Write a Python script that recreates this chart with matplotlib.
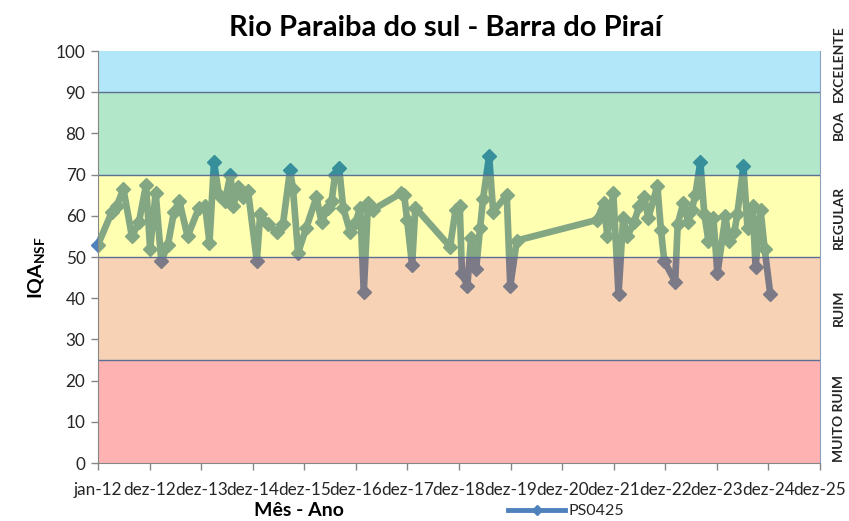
import matplotlib
matplotlib.use("Agg")
import matplotlib.pyplot as plt
import pandas as pd
from matplotlib.lines import Line2D

# ---------------- data ----------------
dates = [
    "2012-01-01", "2012-04-09", "2012-05-14", "2012-06-29", "2012-08-28", "2012-10-17",
    "2012-12-06", "2013-01-04", "2013-02-12", "2013-03-24", "2013-05-10", "2013-06-22",
    "2013-07-30", "2013-09-26", "2013-12-16", "2014-01-28", "2014-02-28", "2014-04-01",
    "2014-05-06", "2014-06-17", "2014-07-26", "2014-08-17", "2014-09-15", "2014-10-23",
    "2014-11-28", "2015-01-29", "2015-02-22", "2015-04-18", "2015-06-20", "2015-08-02",
    "2015-09-21", "2015-10-12", "2015-11-17", "2016-01-13", "2016-03-26", "2016-05-01",
    "2016-06-16", "2016-07-11", "2016-08-05", "2016-09-03", "2016-10-01", "2016-11-20",
    "2016-12-29", "2017-01-30", "2017-02-24", "2017-03-26", "2017-04-30", "2017-11-16",
    "2017-12-07", "2017-12-28", "2018-02-01", "2018-02-24", "2018-10-28", "2018-12-06",
    "2019-01-04", "2019-01-20", "2019-02-27", "2019-03-25", "2019-04-30", "2019-05-28",
    "2019-06-18", "2019-07-31", "2019-08-29", "2019-12-03", "2019-12-28", "2020-02-12",
    "2021-09-02", "2021-10-20", "2021-11-14", "2021-12-26", "2022-02-01", "2022-03-06",
    "2022-04-04", "2022-05-23", "2022-06-28", "2022-08-02", "2022-08-31", "2022-11-03",
    "2022-11-28", "2022-12-22", "2023-03-09", "2023-03-27", "2023-05-05", "2023-06-10",
    "2023-07-04", "2023-07-29", "2023-09-03", "2023-10-01", "2023-10-30", "2023-12-04",
    "2024-01-02", "2024-02-28", "2024-03-22", "2024-05-01", "2024-05-22", "2024-07-04",
    "2024-08-02", "2024-09-07", "2024-09-28", "2024-11-02", "2024-12-01", "2025-01-10",
]
iqa = [
    53, 61, 62.5, 66.5, 55, 58.5,
    67.5, 52, 65.5, 49, 53, 61,
    63.5, 55, 62, 62.5, 53.5, 73,
    65, 63.5, 70, 62.5, 67, 64.5,
    66, 49, 60.5, 58, 56, 58,
    71, 66.5, 51, 57, 64.5, 58.5,
    62, 63.5, 70, 71.5, 62, 56,
    58.5, 62, 41.5, 63, 61.5, 65.5,
    65, 59, 48, 62, 52.5, 61.5,
    62.5, 46, 43, 54.5, 47, 57,
    64, 74.5, 61, 65, 43, 54,
    59, 63, 55, 65.5, 41, 59.5,
    55, 58.5, 62.5, 64.5, 59.5, 67.3,
    56.6, 49, 44, 58, 63, 58.5,
    61.5, 65, 73, 60.5, 54, 59.5,
    46, 60, 54, 56, 60.5, 72,
    57, 62.5, 47.5, 61.5, 52, 41,
]
series_name = "PS0425"
x_tick_labels = ["jan-12", "dez-12", "dez-13", "dez-14", "dez-15", "dez-16", "dez-17",
                 "dez-18", "dez-19", "dez-20", "dez-21", "dez-22", "dez-23", "dez-24", "dez-25"]
band_limits = [0, 25, 50, 70, 90, 100]
band_names = ["MUITO RUIM", "RUIM", "REGULAR", "BOA", "EXCELENTE"]
band_colors = ["#ff0000", "#e56c08", "#ffff00", "#00b050", "#00b0f0"]

# ---------------- figure ----------------
plt.rcParams["font.family"] = ["Lato", "DejaVu Sans"]
plt.rcParams["mathtext.fontset"] = "custom"
plt.rcParams["mathtext.bf"] = "Lato:bold"
plt.rcParams["mathtext.rm"] = "Lato"
W, H = 849, 521
fig = plt.figure(figsize=(W / 100, H / 100), dpi=100)
ax = fig.add_axes([98 / W, 1 - 463 / H, 722 / W, 412 / H])

x = pd.to_datetime(dates)
base = pd.Timestamp("2012-01-01")
ticks = [base + pd.Timedelta(days=365 * k) for k in range(len(x_tick_labels))]

ax.plot(x, iqa, color="#4f81bd", lw=4.8, marker="D", ms=7.5, zorder=2,
        clip_on=False, solid_joinstyle="round")

for lo, hi, c in zip(band_limits[:-1], band_limits[1:], band_colors):
    ax.axhspan(lo, hi, facecolor=c, alpha=0.3, lw=0, zorder=3)
for b in band_limits[1:-1]:
    ax.axhline(b, color="#5b6f94", lw=1.0, zorder=4)

ax.set_xlim(ticks[0], ticks[-1])
ax.set_ylim(0, 100)
ax.set_xticks(ticks)
ax.set_xticklabels(x_tick_labels)
ax.set_yticks(range(0, 101, 10))
ax.tick_params(axis="both", direction="out", length=5, width=1, color="#868686",
               labelsize=12.3, labelcolor="#262626", pad=4)
ax.tick_params(axis="x", pad=9)
ax.spines["top"].set_visible(False)
ax.spines["left"].set_color("#868686")
ax.spines["bottom"].set_color("#868686")
ax.spines["right"].set_color("#8ea0bf")
ax.spines["left"].set_zorder(5)
ax.spines["bottom"].set_zorder(5)

fig.text(446 / W, 1 - 28 / H, "Rio Paraiba do sul - Barra do Piraí", ha="center", va="center",
         fontsize=21, fontweight="bold", color="black")

fig.text(37 / W, 1 - 268 / H, r"IQA$_{\mathbf{NSF}}$", rotation=90, ha="center", va="center",
         fontsize=14, fontweight="bold", color="black")
fig.text(299 / W, 1 - 511 / H, "Mês - Ano", ha="center", va="center",
         fontsize=14, fontweight="bold", color="black")

# right-hand quality labels
label_y = [418, 308, 217, 125, 64]
for name, yy in zip(band_names, label_y):
    fig.text(839 / W, 1 - yy / H, name, rotation=90, ha="center", va="center",
             fontsize=10, fontweight="bold", color="#262626")

handle = Line2D([], [], color="#4f81bd", lw=3.5, marker="D", ms=5)
fig.legend([handle], [series_name], loc="center", bbox_to_anchor=(566 / W, 1 - 511 / H),
           frameon=False, fontsize=11.5, handlelength=3.6, handletextpad=0.2,
           labelcolor="#262626")

fig.savefig("out.png", dpi=100)
